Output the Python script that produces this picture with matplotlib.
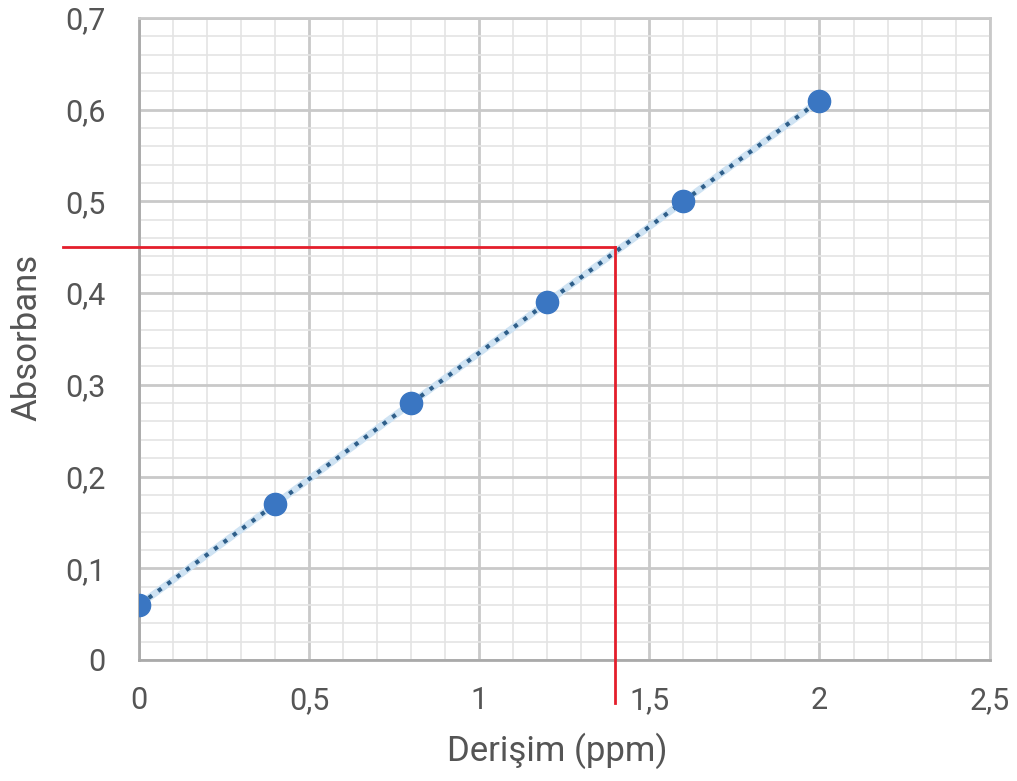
import matplotlib
matplotlib.use("Agg")
import matplotlib.pyplot as plt
from matplotlib.ticker import MultipleLocator, FuncFormatter

# data
concentration = [0, 0.4, 0.8, 1.2, 1.6, 2.0]
absorbance = [0.06, 0.17, 0.28, 0.39, 0.50, 0.61]
sample_abs = 0.45
sample_conc = 1.4

plt.rcParams["font.family"] = ["Roboto", "DejaVu Sans"]

fig = plt.figure(figsize=(10.17, 7.81), dpi=100)
ax = fig.add_axes([0.137, 0.155, 0.836, 0.822])

ax.set_xlim(0, 2.5)
ax.set_ylim(0, 0.7)

ax.xaxis.set_major_locator(MultipleLocator(0.5))
ax.xaxis.set_minor_locator(MultipleLocator(0.1))
ax.yaxis.set_major_locator(MultipleLocator(0.1))
ax.yaxis.set_minor_locator(MultipleLocator(0.02))

comma = FuncFormatter(lambda v, p: f"{v:g}".replace(".", ","))
ax.xaxis.set_major_formatter(comma)
ax.yaxis.set_major_formatter(comma)

ax.grid(which="major", color="#c9c9c9", linewidth=2)
ax.grid(which="minor", color="#e4e4e4", linewidth=1.2)
ax.set_axisbelow(True)
for s in ax.spines.values():
    s.set_color("#c9c9c9")
    s.set_linewidth(2)
ax.spines["bottom"].set_color("#aaaaaa")
ax.spines["left"].set_color("#aaaaaa")

ax.tick_params(which="both", length=0, labelsize=22, labelcolor="#555555")
ax.tick_params(axis="x", pad=19)
ax.tick_params(axis="y", pad=24)

# trend line (light halo + dark dots) and the data points
ax.plot(concentration, absorbance, color="#cfe3f3", linewidth=5, zorder=2)
ax.plot(concentration, absorbance, color="#2f5f8a", linewidth=3,
        linestyle=(0, (1, 1.8)), zorder=3)
ax.plot(concentration, absorbance, "o", color="#3a76c2", markersize=16, zorder=4)

# red reading lines
ax.plot([-0.224, sample_conc], [sample_abs, sample_abs], color="#e41e2b",
        linewidth=2, clip_on=False, zorder=5)
ax.plot([sample_conc, sample_conc], [sample_abs, -0.047], color="#e41e2b",
        linewidth=2, clip_on=False, zorder=5)

ax.set_xlabel("Derişim (ppm)", fontsize=25, color="#555555", va="center")
ax.set_ylabel("Absorbans", fontsize=25, color="#555555", va="center")
ax.xaxis.set_label_coords(0.548, 0.0384, transform=fig.transFigure)
ax.yaxis.set_label_coords(0.0265, 0.568, transform=fig.transFigure)

fig.savefig("out.png", dpi=100)
